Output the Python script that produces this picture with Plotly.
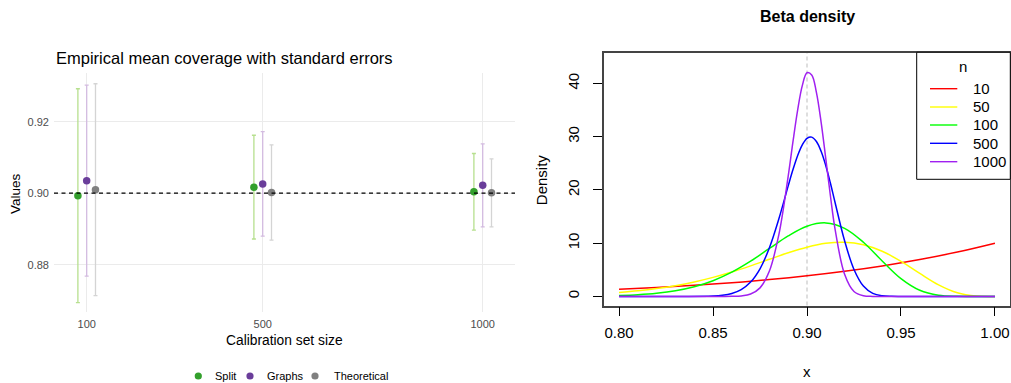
import plotly.graph_objects as go

# ---------------- data: left panel (empirical coverage) ----------------
SIZES = [100, 500, 1000]
SIZE_LABELS = ["100", "500", "1000"]
METHODS = ["Split", "Graphs", "Theoretical"]
SPLIT_MEAN = [0.8993, 0.9017, 0.9004]
SPLIT_SE = [0.0299, 0.0145, 0.0107]
GRAPHS_MEAN = [0.9035, 0.9026, 0.9022]
GRAPHS_SE = [0.0267, 0.0146, 0.0116]
THEO_MEAN = [0.9010, 0.9002, 0.9001]
THEO_SE = [0.0296, 0.0133, 0.0095]
TARGET = 0.90
Y_TICKS_LEFT = [0.88, 0.90, 0.92]

# ---------------- data: right panel (Beta densities) ----------------
N_LABELS = ["10", "50", "100", "500", "1000"]
X_N10 = [0.80, 0.82, 0.84, 0.86, 0.88, 0.90, 0.92, 0.94, 0.96, 0.98, 1.00]
Y_N10 = [1.342, 1.676, 2.082, 2.573, 3.165, 3.874, 4.722, 5.730, 6.925, 8.337, 10.0]

X_MID = [0.80, 0.81, 0.82, 0.83, 0.84, 0.85, 0.86, 0.87, 0.88, 0.89, 0.90,
         0.91, 0.92, 0.93, 0.94, 0.95, 0.96, 0.97, 0.98, 0.99, 1.00]
Y_N50 = [0.738, 1.052, 1.472, 2.020, 2.717, 3.575, 4.593, 5.744, 6.974, 8.188, 9.246,
         9.975, 10.183, 9.710, 8.481, 6.584, 4.320, 2.179, 0.683, 0.067, 0.0]
Y_N100 = [0.168, 0.324, 0.601, 1.070, 1.822, 2.957, 4.554, 6.615, 9.003, 11.374, 13.186,
          13.810, 12.794, 10.178, 6.656, 3.343, 1.152, 0.220, 0.014, 0.0, 0.0]

X_FINE = [0.80, 0.83, 0.85, 0.855, 0.86, 0.865, 0.87, 0.875, 0.88, 0.885, 0.89, 0.8925,
          0.895, 0.8975, 0.90, 0.9025, 0.905, 0.9075, 0.91, 0.9125, 0.915, 0.92, 0.925,
          0.93, 0.935, 0.94, 0.945, 0.95, 0.96, 1.00]
Y_N500 = [0.0, 0.001, 0.085, 0.227, 0.560, 1.279, 2.694, 5.196, 9.133, 14.529, 20.756, 23.77,
          26.424, 28.46, 29.683, 29.913, 29.085, 27.25, 24.539, 21.20, 17.549, 10.453, 5.071,
          1.952, 0.577, 0.126, 0.019, 0.002, 0.0, 0.0]
Y_N1000 = [0.0, 0.0, 0.0, 0.004, 0.021, 0.105, 0.450, 1.609, 4.772, 11.572, 22.593, 28.97,
           34.95, 39.59, 42.00, 41.59, 38.31, 32.74, 25.84, 18.76, 12.48, 4.168, 0.920,
           0.127, 0.010, 0.0, 0.0, 0.0, 0.0, 0.0]
X_TICKS_RIGHT = [0.80, 0.85, 0.90, 0.95, 1.00]
Y_TICKS_RIGHT = [0, 10, 20, 30, 40]

# ---------------- styling ----------------
W, H = 1011, 383
FONT = "Liberation Sans, Arial, Helvetica, sans-serif"
PT_COLORS = ["#33a02c", "#6a3d9a", "#808080"]
BAR_COLORS = ["#b7e08f", "#d3bbe0", "#d4d4d4"]
CURVE_COLORS = ["#FF0000", "#FFFF00", "#00FF00", "#0000FF", "#A020F0"]
DODGE = 20


def px(x):
    return x / W


def py(y):
    return 1 - y / H


fig = go.Figure()

means = [SPLIT_MEAN, GRAPHS_MEAN, THEO_MEAN]
ses = [SPLIT_SE, GRAPHS_SE, THEO_SE]
offsets = [-DODGE, 0, DODGE]
for name, m, se, off, pc, bc in zip(METHODS, means, ses, offsets, PT_COLORS, BAR_COLORS):
    fig.add_trace(go.Scatter(
        x=[s + off for s in SIZES], y=m, mode="markers", name=name,
        marker=dict(color=pc, size=7.5),
        error_y=dict(type="data", array=se, visible=True, color=bc, thickness=1.3, width=2),
        xaxis="x", yaxis="y", showlegend=False, hoverinfo="x+y",
    ))

curves = [(X_N10, Y_N10), (X_MID, Y_N50), (X_MID, Y_N100), (X_FINE, Y_N500), (X_FINE, Y_N1000)]
for lab, (xs, ys), col in zip(N_LABELS, curves, CURVE_COLORS):
    fig.add_trace(go.Scatter(
        x=xs, y=ys, mode="lines", name=lab,
        line=dict(color=col, width=1.5, shape="spline", smoothing=1.0),
        xaxis="x2", yaxis="y2", showlegend=False,
    ))

shapes = []
# target line (left)
shapes.append(dict(type="line", xref="x domain", x0=0, x1=1, yref="y", y0=TARGET, y1=TARGET,
                   line=dict(color="black", width=1.3, dash="4px,3.5px"), layer="above"))
# target line (right)
shapes.append(dict(type="line", xref="x2", x0=TARGET, x1=TARGET, yref="y2 domain", y0=0, y1=1,
                   line=dict(color="#bdbdbd", width=1, dash="4px,3px"), layer="below"))
# right legend box
shapes.append(dict(type="rect", xref="paper", yref="paper", x0=px(916.7), x1=px(1010.3),
                   y0=py(179.3), y1=py(52.3), line=dict(color="black", width=1),
                   fillcolor="white", layer="above"))
leg_y = [88.7, 107.0, 125.0, 143.3, 161.7]
for yy, col in zip(leg_y, CURVE_COLORS):
    shapes.append(dict(type="line", xref="paper", yref="paper", x0=px(930), x1=px(957.3),
                       y0=py(yy), y1=py(yy), line=dict(color=col, width=1.4), layer="above"))
# left legend dots
left_leg_dot_x = [198.3, 250.0, 315.0]
for xx, col in zip(left_leg_dot_x, PT_COLORS):
    shapes.append(dict(type="circle", xref="paper", yref="paper", xsizemode="pixel",
                       ysizemode="pixel", xanchor=px(xx), yanchor=py(376), x0=-3.6, x1=3.6,
                       y0=-3.6, y1=3.6, fillcolor=col, line=dict(width=0)))

annotations = []


def ann(text, x, y, size, xanchor="center", color="black", angle=0, bold=False):
    annotations.append(dict(
        text=f"<b>{text}</b>" if bold else text, x=px(x), y=py(y), xref="paper", yref="paper",
        xanchor=xanchor, yanchor="middle", showarrow=False, textangle=angle,
        font=dict(family=FONT, size=size, color=color)))


ann("Empirical mean coverage with standard errors", 54, 57.5, 16.5, xanchor="left")
ann("Values", 15, 194, 13.5, angle=-90)
ann("Calibration set size", 284.7, 340.7, 13.8)
for xx, name in zip([213.3, 265.0, 331.7], METHODS):
    ann(name, xx, 376, 11, xanchor="left")

ann("Beta density", 807, 16.5, 16, bold=True)
ann("Density", 541.7, 179.5, 15, angle=-90)
ann("x", 807, 371, 15)
ann("n", 962.7, 66.7, 15)
for yy, lab in zip(leg_y, N_LABELS):
    ann(lab, 971, yy, 15, xanchor="left")

fig.update_layout(
    width=W, height=H, margin=dict(l=0, r=0, t=0, b=0),
    paper_bgcolor="white", plot_bgcolor="white",
    font=dict(family=FONT),
    showlegend=False,
    shapes=shapes, annotations=annotations,
    xaxis=dict(domain=[px(54), px(515)], range=[25.7, 1073.4], anchor="y",
               tickvals=SIZES, ticktext=SIZE_LABELS, showgrid=True, gridcolor="#ebebeb",
               gridwidth=1, zeroline=False, showline=False, ticks="",
               tickfont=dict(family=FONT, size=11, color="#4d4d4d"), ticklabelstandoff=4),
    yaxis=dict(domain=[py(312), py(73)], range=[0.8668, 0.9336], anchor="x",
               tickvals=Y_TICKS_LEFT, ticktext=[f"{v:.2f}" for v in Y_TICKS_LEFT],
               showgrid=True, gridcolor="#ebebeb", gridwidth=1, zeroline=False,
               showline=False, ticks="", tickfont=dict(family=FONT, size=11, color="#4d4d4d"),
               ticklabelstandoff=4),
    xaxis2=dict(domain=[px(604), px(1010)], range=[0.792, 1.008], anchor="y2",
                tickvals=X_TICKS_RIGHT, ticktext=[f"{v:.2f}" for v in X_TICKS_RIGHT],
                showgrid=False, zeroline=False, showline=True, mirror=True,
                linecolor="#444444", linewidth=1.5, ticks="outside", ticklen=9,
                tickcolor="black", tickwidth=1, ticklabelstandoff=4,
                tickfont=dict(family=FONT, size=15, color="black")),
    yaxis2=dict(domain=[py(305.5), py(52.5)], range=[-1.7, 45.8], anchor="x2",
                tickvals=Y_TICKS_RIGHT, ticktext=[str(v) for v in Y_TICKS_RIGHT],
                showgrid=False, zeroline=False, showline=True, mirror=True,
                linecolor="#444444", linewidth=1.5, ticks="outside", ticklen=9,
                tickcolor="black", tickwidth=1, tickangle=-90, ticklabelstandoff=8,
                tickfont=dict(family=FONT, size=15, color="black")),
)

fig.write_html(
    "out.html",
    config={"displayModeBar": False},
    post_script="document.body.style.margin='0';document.body.style.overflow='hidden';",
)
